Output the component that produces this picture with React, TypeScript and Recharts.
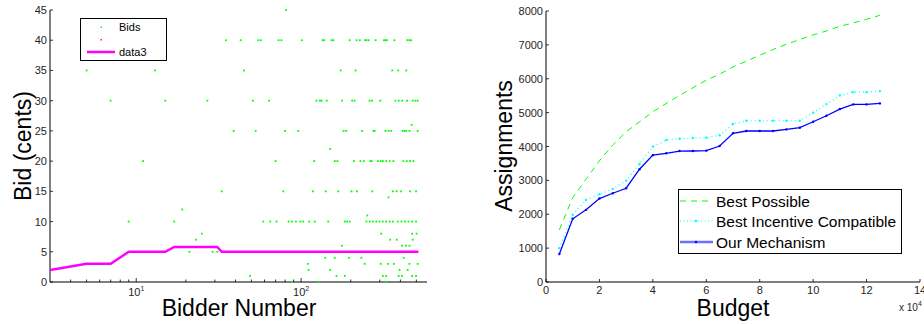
import React from 'react'
import { ScatterChart, Scatter, LineChart, Line, XAxis, YAxis, Legend } from 'recharts'

// left panel: bidder numbers grouped by the bid they placed (cents)
const bidders45 = [81]
const bidders40 = [35, 43, 55, 57, 73, 76, 101, 135, 138, 153, 157, 197, 217, 227, 245, 249, 257, 283, 318, 324, 331, 368, 441, 454, 464]
const bidders35 = [5, 13, 45, 174, 214, 357, 388, 434]
const bidders30 = [7, 15, 27, 51, 64, 124, 130, 133, 143, 177, 204, 211, 260, 269, 302, 373, 391, 410, 439, 475, 493, 509]
const bidders26 = [468]
const bidders25 = [39, 53, 80, 96, 181, 188, 234, 275, 279, 325, 339, 352, 413, 423, 434, 454, 509]
const bidders22 = [150]
const bidders20 = [11, 70, 120, 160, 166, 209, 229, 240, 263, 268, 292, 304, 313, 328, 344, 363, 417, 437, 458, 480]
const bidders15 = [33, 78, 118, 141, 168, 202, 218, 270, 360, 379, 404, 458, 498]
const bidders14 = [339]
const bidders12 = [19]
const bidders11 = [252]
const bidders10 = [9, 17, 59, 65, 71, 84, 88, 93, 99, 103, 112, 121, 146, 184, 190, 197, 249, 261, 273, 286, 299, 313, 328, 344, 360, 386, 406, 427, 448, 471, 498]
const bidders8 = [25, 306, 471, 502]
const bidders7 = [23, 347, 380, 475]
const bidders6 = [177, 410, 432, 454]
const bidders5 = [21, 29, 31]
const bidders4 = [140, 160, 195, 232, 419]
const bidders3 = [110, 243, 304, 336, 365, 454, 509]
const bidders2 = [111, 150, 395, 443]
const bidders1 = [3, 49, 164, 184, 313, 328, 391, 409, 471, 498]
const bidders0 = [88, 127, 328]

const bidGroups: [number, number[]][] = [
  [45, bidders45], [40, bidders40], [35, bidders35], [30, bidders30], [26, bidders26],
  [25, bidders25], [22, bidders22], [20, bidders20], [15, bidders15], [14, bidders14],
  [12, bidders12], [11, bidders11], [10, bidders10], [8, bidders8], [7, bidders7],
  [6, bidders6], [5, bidders5], [4, bidders4], [3, bidders3], [2, bidders2],
  [1, bidders1], [0, bidders0],
]

// magenta "data3" curve
const data3Bidders = [3, 5, 7, 9, 15, 17, 31, 33, 514]
const data3Bids = [2, 3, 3, 5, 5, 5.8, 5.8, 5, 5]

const leftYTicks = [0, 5, 10, 15, 20, 25, 30, 35, 40, 45]
const leftXTicks = [4, 5, 6, 7, 8, 9, 10, 20, 30, 40, 50, 60, 70, 80, 90, 100, 200, 300, 400, 500]
const leftXMajor = [10, 100]

// right panel
const budget = [0.5, 1, 1.5, 2, 2.5, 3, 3.5, 4, 4.5, 5, 5.5, 6, 6.5, 7, 7.5, 8, 8.5, 9, 9.5, 10, 10.5, 11, 11.5, 12, 12.5]
const bestPossible = [1540, 2492, 3034, 3580, 4044, 4436, 4730, 5025, 5270, 5510, 5735, 5958, 6135, 6350, 6518, 6695, 6863, 7019, 7158, 7293, 7411, 7550, 7647, 7756, 7873]
const bestIncentive = [1000, 1982, 2424, 2590, 2748, 2993, 3485, 3995, 4191, 4230, 4250, 4260, 4330, 4663, 4760, 4760, 4760, 4760, 4760, 4996, 5252, 5508, 5605, 5605, 5635]
const ourMechanism = [825, 1865, 2130, 2463, 2620, 2768, 3330, 3745, 3800, 3865, 3867, 3877, 4015, 4390, 4457, 4457, 4457, 4505, 4555, 4730, 4907, 5105, 5243, 5243, 5272]

const rightXTicks = [0, 2, 4, 6, 8, 10, 12, 14]
const rightYTicks = [0, 1000, 2000, 3000, 4000, 5000, 6000, 7000, 8000]

const bids = bidGroups.flatMap(([bid, xs]) => xs.map((x) => ({ x, y: bid })))
const data3 = data3Bidders.map((x, i) => ({ x, y: data3Bids[i] }))
const budgetData = budget.map((b, i) => ({
  budget: b,
  best: bestPossible[i],
  incentive: bestIncentive[i],
  ours: ourMechanism[i],
}))

const FONT = '"Liberation Sans", Arial, Helvetica, sans-serif'
const TICK_COLOR = '#262626'

const YTick = ({ x, y, payload }: any) => (
  <g>
    <line x1={x} x2={x + 3} y1={y} y2={y} stroke='#000' strokeWidth={0.8} />
    <text x={x - 3} y={y + 4} textAnchor='end' fontSize={11} fill={TICK_COLOR}>
      {payload.value}
    </text>
  </g>
)

const LogTick = ({ x, y, payload }: any) => {
  const major = leftXMajor.includes(payload.value)
  return (
    <g>
      <line x1={x} x2={x} y1={y} y2={y - (major ? 4 : 2.5)} stroke='#000' strokeWidth={0.8} />
      {major && (
        <text x={x} y={y + 14} textAnchor='middle' fontSize={11} fill={TICK_COLOR}>
          10
          <tspan dy={-5} fontSize={7}>
            {Math.round(Math.log10(payload.value))}
          </tspan>
        </text>
      )}
    </g>
  )
}

const BudgetTick = ({ x, y, payload }: any) => (
  <g>
    <line x1={x} x2={x} y1={y} y2={y - 3} stroke='#000' strokeWidth={0.8} />
    <text x={x} y={y + 12} textAnchor='middle' fontSize={11} fill={TICK_COLOR}>
      {payload.value}
    </text>
  </g>
)

const Dot = ({ cx, cy }: any) => (
  <rect x={cx - 0.9} y={cy - 0.9} width={1.8} height={1.8} fill='#00ff00' />
)
const NoDot = () => <g />

const BidsLegend = () => (
  <div style={{ width: 87, height: 43, border: '1.5px solid #000', background: '#fff', boxSizing: 'border-box' }}>
    <svg width={84} height={40} style={{ display: 'block', fontFamily: FONT }}>
      <rect x={19.5} y={7.5} width={1.5} height={1.5} fill='#00ff00' />
      <text x={38} y={12} fontSize={11} fill='#000'>Bids</text>
      <rect x={19.5} y={20} width={1.5} height={1.5} fill='#ff00ff' />
      <line x1={6} x2={34} y1={33} y2={33} stroke='#ff00ff' strokeWidth={2.5} />
      <text x={38} y={37} fontSize={11} fill='#000'>data3</text>
    </svg>
  </div>
)

const BudgetLegend = () => (
  <div style={{ width: 224, height: 65, border: '1.5px solid #000', background: '#fff', boxSizing: 'border-box' }}>
    <svg width={221} height={62} style={{ display: 'block', fontFamily: FONT }}>
      <line x1={1} x2={34} y1={11} y2={11} stroke='#00ff00' strokeDasharray='6 5' />
      <text x={37} y={16.5} fontSize={15.5} fill='#000'>Best Possible</text>
      <line x1={1} x2={34} y1={31} y2={31} stroke='#00ffff' strokeDasharray='1 2.5' />
      <circle cx={17} cy={31} r={1.2} fill='#00ffff' />
      <text x={37} y={36.5} fontSize={15.5} fill='#000'>Best Incentive Compatible</text>
      <line x1={1} x2={34} y1={52} y2={52} stroke='#7070ff' strokeWidth={2.5} />
      <circle cx={17} cy={52} r={1.2} fill='#0000ff' />
      <text x={37} y={57.5} fontSize={15.5} fill='#000'>Our Mechanism</text>
    </svg>
  </div>
)

export default function App() {
  return (
    <div style={{ position: 'absolute', left: 0, top: 0, width: 924, height: 324, background: '#fff', fontFamily: FONT, overflow: 'hidden' }}>
      <div style={{ position: 'absolute', left: 0, top: 0 }}>
        <ScatterChart width={460} height={324} margin={{ top: 10, right: 33, bottom: 41, left: 49 }}>
          <XAxis
            dataKey='x'
            type='number'
            scale='log'
            domain={[3, 580]}
            allowDataOverflow
            ticks={leftXTicks}
            interval={0}
            height={1}
            tickSize={0}
            tickMargin={0}
            tickLine={false}
            tick={<LogTick />}
            axisLine={{ stroke: '#000', strokeWidth: 1 }}
          />
          <YAxis
            dataKey='y'
            type='number'
            domain={[0, 45]}
            ticks={leftYTicks}
            interval={0}
            width={1}
            tickSize={0}
            tickMargin={0}
            tickLine={false}
            tick={<YTick />}
            axisLine={{ stroke: '#000', strokeWidth: 1 }}
          />
          <Legend
            layout='vertical'
            align='center'
            verticalAlign='middle'
            content={<BidsLegend />}
            wrapperStyle={{ left: 80, top: 18, width: 87, height: 43 }}
          />
          <Scatter name='Bids' data={bids} shape={<Dot />} isAnimationActive={false} />
          <Scatter
            name='data3'
            data={data3}
            line={{ stroke: '#ff00ff', strokeWidth: 2.5 }}
            shape={<NoDot />}
            isAnimationActive={false}
          />
        </ScatterChart>
      </div>
      <div style={{ position: 'absolute', left: 460, top: 0 }}>
        <LineChart width={464} height={324} data={budgetData} margin={{ top: 11, right: 4, bottom: 41, left: 85 }}>
          <XAxis
            dataKey='budget'
            type='number'
            domain={[0, 14]}
            ticks={rightXTicks}
            interval={0}
            height={1}
            tickSize={0}
            tickMargin={0}
            tickLine={false}
            tick={<BudgetTick />}
            axisLine={{ stroke: '#000', strokeWidth: 1 }}
          />
          <YAxis
            type='number'
            domain={[0, 8000]}
            ticks={rightYTicks}
            interval={0}
            width={1}
            tickSize={0}
            tickMargin={0}
            tickLine={false}
            tick={<YTick />}
            axisLine={{ stroke: '#000', strokeWidth: 1 }}
          />
          <Legend
            layout='vertical'
            align='center'
            verticalAlign='middle'
            content={<BudgetLegend />}
            wrapperStyle={{ left: 218, top: 189, width: 224, height: 65 }}
          />
          <Line
            dataKey='best'
            name='Best Possible'
            stroke='#00ff00'
            strokeWidth={1}
            strokeDasharray='6 5'
            dot={false}
            isAnimationActive={false}
          />
          <Line
            dataKey='incentive'
            name='Best Incentive Compatible'
            stroke='#00ffff'
            strokeWidth={1.2}
            strokeDasharray='1 3'
            dot={{ r: 1.2, fill: '#00ffff', stroke: 'none' }}
            isAnimationActive={false}
          />
          <Line
            dataKey='ours'
            name='Our Mechanism'
            stroke='#0000ff'
            strokeWidth={1.3}
            dot={{ r: 1.2, fill: '#0000ff', stroke: 'none' }}
            isAnimationActive={false}
          />
        </LineChart>
      </div>
      <svg width={924} height={324} style={{ position: 'absolute', left: 0, top: 0, pointerEvents: 'none' }}>
        <text x={31} y={146} transform='rotate(-90 31 146)' textAnchor='middle' fontSize={23} fill='#000'>
          Bid (cents)
        </text>
        <text x={239} y={316} textAnchor='middle' fontSize={23} fill='#000'>
          Bidder Number
        </text>
        <text x={512} y={146} transform='rotate(-90 512 146)' textAnchor='middle' fontSize={23} fill='#000'>
          Assignments
        </text>
        <text x={733} y={316} textAnchor='middle' fontSize={23} fill='#000'>
          Budget
        </text>
        <text x={899} y={311} fontSize={10} fill={TICK_COLOR}>
          x 10
          <tspan dy={-5} fontSize={7}>4</tspan>
        </text>
      </svg>
    </div>
  )
}
